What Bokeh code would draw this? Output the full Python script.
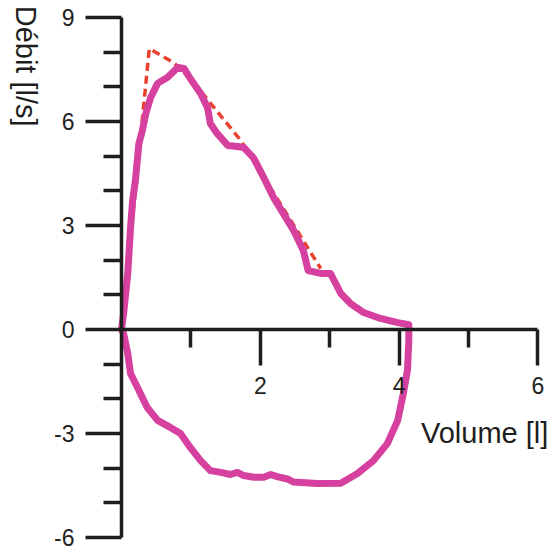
import math

from bokeh.core.properties import value
from bokeh.embed import file_html
from bokeh.models import FixedTicker, LinearAxis, Range1d
from bokeh.plotting import figure
from bokeh.resources import INLINE

# Expiratory limb of the flow-volume loop (volume in l, flow in l/s)
exp_volume = [0.00, 0.03, 0.09, 0.13, 0.16, 0.20, 0.25, 0.30, 0.35, 0.42, 0.52,
              0.66, 0.81, 0.90, 0.99, 1.14, 1.24, 1.28, 1.38, 1.53, 1.67, 1.76,
              1.90, 2.05, 2.19, 2.33, 2.48, 2.62, 2.69, 2.87, 3.01, 3.16, 3.30,
              3.49, 3.73, 3.98, 4.14]
exp_flow = [0.00, 0.46, 1.62, 2.94, 3.72, 4.30, 5.36, 5.74, 6.23, 6.69, 7.10,
            7.27, 7.56, 7.53, 7.24, 6.81, 6.40, 5.94, 5.65, 5.31, 5.28, 5.25,
            4.96, 4.38, 3.81, 3.35, 2.86, 2.28, 1.70, 1.62, 1.62, 1.04, 0.75,
            0.49, 0.32, 0.20, 0.14]

# Inspiratory limb, from end of expiration back to the origin
insp_volume = [4.14, 4.12, 4.06, 3.98, 3.83, 3.63, 3.40, 3.16, 2.82, 2.48, 2.39,
               2.24, 2.15, 2.05, 1.91, 1.76, 1.67, 1.57, 1.43, 1.28, 1.14, 0.99,
               0.85, 0.71, 0.52, 0.37, 0.23, 0.13, 0.09, 0.03, 0.00]
insp_flow = [-0.32, -1.18, -1.85, -2.62, -3.29, -3.78, -4.15, -4.43, -4.44, -4.40,
             -4.31, -4.24, -4.18, -4.26, -4.26, -4.21, -4.12, -4.18, -4.12, -4.07,
             -3.78, -3.40, -3.00, -2.83, -2.62, -2.25, -1.67, -1.27, -0.69, -0.12,
             0.00]

# Dashed expiratory envelope
env_volume = [0.00, 0.40, 0.75, 1.00, 1.72, 2.87]
env_flow = [0.00, 8.10, 7.70, 7.22, 5.45, 1.76]

# Axis ticks
y_major = [-6, -3, 0, 3, 6, 9]
y_minor = [-5, -4, -2, -1, 1, 2, 4, 5, 7, 8]
x_major = [2, 4, 6]
x_minor = [1, 3, 5]

FONT = "Liberation Sans"
INK = "#1e1e1e"
LOOP = "#d6409f"
ENVELOPE = "#e8412f"

p = figure(width=549, height=552,
           x_range=Range1d(-1.744, 6.167), y_range=Range1d(-6.43, 9.49),
           output_backend="svg", toolbar_location=None,
           x_axis_type=None, y_axis_type=None,
           min_border=0, outline_line_color=None)
p.grid.visible = False
p.background_fill_color = "white"
p.border_fill_color = "white"


def style_axis(axis, ticks, minor, bounds):
    axis.ticker = FixedTicker(ticks=ticks, minor_ticks=minor)
    axis.bounds = bounds
    axis.fixed_location = 0
    axis.major_label_overrides = {t: str(t) for t in ticks}
    axis.axis_line_width = 3.5
    axis.axis_line_color = INK
    axis.major_tick_line_width = 3.5
    axis.major_tick_line_color = INK
    axis.minor_tick_line_width = 3.5
    axis.minor_tick_line_color = INK
    axis.major_tick_in = 0
    axis.minor_tick_in = 0
    axis.major_tick_out = 36
    axis.minor_tick_out = 18
    axis.major_label_text_font = FONT
    axis.major_label_text_font_size = "23px"
    axis.major_label_text_color = INK
    axis.major_label_standoff = 11


yaxis = LinearAxis()
style_axis(yaxis, y_major, y_minor, (-6, 9))
p.add_layout(yaxis, "left")

xaxis = LinearAxis()
style_axis(xaxis, x_major, x_minor, (0, 6))
p.add_layout(xaxis, "below")

# envelope underneath, loop on top
p.line(env_volume, env_flow, line_color=ENVELOPE, line_width=3.5,
       line_dash="8 5")
p.line(exp_volume + insp_volume, exp_flow + insp_flow, line_color=LOOP,
       line_width=7, line_join="round", line_cap="round")

p.text(x=[-1.38], y=[9.34], text=["Débit [l/s]"], angle=-math.pi / 2,
       text_align="left", text_baseline="middle",
       text_font=value(FONT), text_font_size="29px", text_color=INK)
p.text(x=[6.15], y=[-2.97], text=["Volume [l]"],
       text_align="right", text_baseline="alphabetic",
       text_font=value(FONT), text_font_size="29px", text_color=INK)

open("out.html", "w").write(file_html(p, INLINE))
